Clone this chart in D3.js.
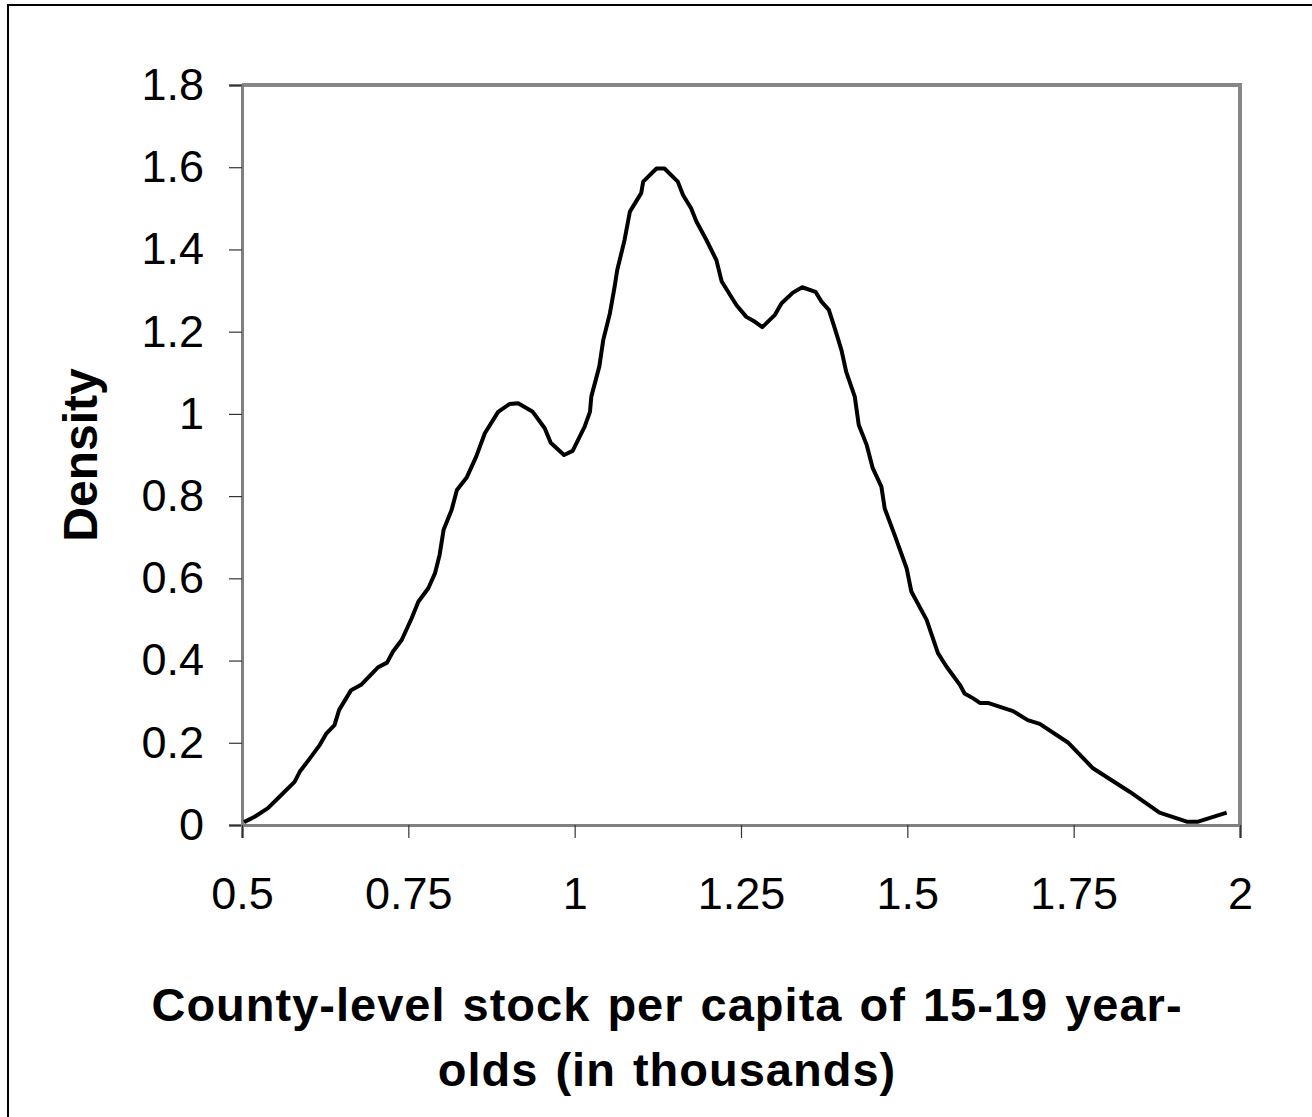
<!DOCTYPE html>
<html>
<head>
<meta charset="utf-8">
<script src="https://cdn.jsdelivr.net/npm/d3@7/dist/d3.min.js"></script>
<style>
  html, body { margin: 0; padding: 0; background: #fff; }
  svg { display: block; font-family: Arial, "Liberation Sans", sans-serif; }
</style>
</head>
<body>
<svg id="chart" width="1312" height="1117"></svg>
<script>
// Kernel density estimate: stock per capita (thousands) vs. density
const stockValues = [
  0.503, 0.519, 0.539, 0.559, 0.579, 0.587, 0.602, 0.617, 0.627, 0.639,
  0.646, 0.664, 0.679, 0.704, 0.718, 0.727, 0.740, 0.755, 0.765, 0.780,
  0.790, 0.797, 0.803, 0.815, 0.823, 0.838, 0.852, 0.865, 0.885, 0.902,
  0.915, 0.937, 0.955, 0.964, 0.984, 0.997, 1.015, 1.023, 1.025, 1.037,
  1.043, 1.053, 1.060, 1.064, 1.075, 1.083, 1.100, 1.103, 1.123, 1.135,
  1.155, 1.163, 1.175, 1.183, 1.198, 1.213, 1.221, 1.243, 1.258, 1.271,
  1.282, 1.301, 1.311, 1.328, 1.342, 1.362, 1.371, 1.382, 1.391, 1.401,
  1.408, 1.421, 1.427, 1.439, 1.448, 1.461, 1.466, 1.481, 1.499, 1.506,
  1.529, 1.546, 1.559, 1.579, 1.586, 1.599, 1.609, 1.621, 1.659, 1.681,
  1.699, 1.742, 1.779, 1.834, 1.879, 1.920, 1.937, 1.980
];
const densityValues = [
  0.007, 0.020, 0.041, 0.073, 0.105, 0.130, 0.162, 0.195, 0.223, 0.243,
  0.280, 0.328, 0.341, 0.383, 0.395, 0.422, 0.450, 0.503, 0.543, 0.576,
  0.612, 0.657, 0.718, 0.766, 0.815, 0.846, 0.896, 0.953, 1.005, 1.024,
  1.026, 1.005, 0.965, 0.930, 0.900, 0.910, 0.969, 1.005, 1.042, 1.115,
  1.180, 1.245, 1.309, 1.350, 1.423, 1.492, 1.537, 1.565, 1.597, 1.597,
  1.565, 1.532, 1.500, 1.468, 1.423, 1.374, 1.322, 1.265, 1.236, 1.224,
  1.211, 1.241, 1.269, 1.295, 1.308, 1.297, 1.273, 1.253, 1.208, 1.155,
  1.103, 1.042, 0.973, 0.924, 0.868, 0.823, 0.770, 0.705, 0.624, 0.568,
  0.499, 0.418, 0.385, 0.341, 0.320, 0.308, 0.297, 0.297, 0.277, 0.255,
  0.246, 0.200, 0.138, 0.081, 0.030, 0.008, 0.008, 0.030
];
const xTicks = [0.5, 0.75, 1, 1.25, 1.5, 1.75, 2];
const xTickLabels = ["0.5", "0.75", "1", "1.25", "1.5", "1.75", "2"];
const yTicks = [0, 0.2, 0.4, 0.6, 0.8, 1, 1.2, 1.4, 1.6, 1.8];
const yTickLabels = ["0", "0.2", "0.4", "0.6", "0.8", "1", "1.2", "1.4", "1.6", "1.8"];
const xTitleLines = ["County-level stock per capita of 15-19 year-", "olds (in thousands)"];
const yTitle = "Density";

const points = stockValues.map((v, i) => ({ x: v, y: densityValues[i] }));

const svg = d3.select("#chart");
const plot = { left: 242, right: 1240, top: 85, bottom: 825 };

const x = d3.scaleLinear().domain([0.5, 2]).range([plot.left, plot.right]);
const y = d3.scaleLinear().domain([0, 1.8]).range([plot.bottom, plot.top]);

// outer chart border
svg.append("rect")
  .attr("x", 8).attr("y", 5)
  .attr("width", 1320).attr("height", 1130)
  .attr("fill", "none").attr("stroke", "#000").attr("stroke-width", 2);

// plot frame (top and right edges)
svg.append("path")
  .attr("d", `M${plot.left},${plot.top}H${plot.right}V${plot.bottom}`)
  .attr("fill", "none").attr("stroke", "#868686").attr("stroke-width", 4);

// y axis
const yAxis = d3.axisLeft(y)
  .tickValues(yTicks)
  .tickFormat((d, i) => yTickLabels[i])
  .tickSize(13).tickPadding(25);
const gy = svg.append("g").attr("transform", `translate(${plot.left},0)`).call(yAxis);
gy.select(".domain").attr("stroke", "#808080").attr("stroke-width", 3);
gy.selectAll(".tick line").attr("stroke", "#333").attr("stroke-width", 1.2);
gy.selectAll(".tick text")
  .attr("font-size", 45).attr("fill", "#000")
  .attr("font-family", "Arial, 'Liberation Sans', sans-serif");

// x axis
const xAxis = d3.axisBottom(x)
  .tickValues(xTicks)
  .tickFormat((d, i) => xTickLabels[i])
  .tickSize(13).tickPadding(39);
const gx = svg.append("g").attr("transform", `translate(0,${plot.bottom})`).call(xAxis);
gx.select(".domain").attr("stroke", "#808080").attr("stroke-width", 3);
gx.selectAll(".tick line").attr("stroke", "#333").attr("stroke-width", 1.2);
gx.selectAll(".tick text")
  .attr("font-size", 45).attr("fill", "#000")
  .attr("font-family", "Arial, 'Liberation Sans', sans-serif");

// density curve
const line = d3.line().x(d => x(d.x)).y(d => y(d.y));
svg.append("path")
  .datum(points)
  .attr("d", line)
  .attr("fill", "none")
  .attr("stroke", "#000")
  .attr("stroke-width", 4)
  .attr("stroke-linejoin", "round");

// axis titles
svg.append("text")
  .attr("transform", "translate(97,455) rotate(-90)")
  .attr("text-anchor", "middle")
  .attr("font-size", 48).attr("font-weight", "bold")
  .text(yTitle);

svg.append("g").selectAll("text")
  .data(xTitleLines)
  .join("text")
  .attr("x", 667)
  .attr("y", (d, i) => 1021 + i * 65)
  .attr("text-anchor", "middle")
  .attr("font-size", 47).attr("font-weight", "bold")
  .attr("letter-spacing", 1)
  .attr("word-spacing", 3)
  .text(d => d);
</script>
</body>
</html>
